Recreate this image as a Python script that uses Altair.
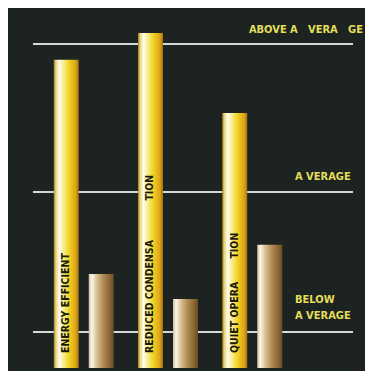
import altair as alt
import pandas as pd

# ---- data ----
groups = ["Energy Efficient", "Reduced Condensation", "Quiet Operation"]
series = ["gold", "bronze"]
gold_values = [95.1, 103.4, 78.7]
bronze_values = [29.0, 21.3, 38.0]
NB = "\u00a0"
bar_labels = [
    "ENERGY EFFICIENT",
    "REDUCED CONDENSA" + NB * 12 + "TION",
    "QUIET OPERA" + NB * 7 + "TION",
]
level_names = ["ABOVE A" + NB * 3 + "VERA" + NB * 3 + "GE", "A VERAGE", "BELOW\nA VERAGE"]
level_values = [100.0, 54.3, 11.1]

rows = []
for g, gv, bv, lab in zip(groups, gold_values, bronze_values, bar_labels):
    rows.append({"group": g, "series": "gold", "value": gv, "label": lab, "base": 0})
    rows.append({"group": g, "series": "bronze", "value": bv, "label": "", "base": 0})
df = pd.DataFrame(rows)
levels = pd.DataFrame({"name": level_names, "value": level_values})

BG = "#1d2321"
TXT = "#e4df5a"
FONT = "Liberation Sans Narrow, DejaVu Sans Condensed, Arial Narrow, sans-serif"

x_enc = alt.X("group:N", sort=groups, axis=None,
              scale=alt.Scale(paddingInner=0.2878, paddingOuter=0.7627, align=0.356))
xo_enc = alt.XOffset("series:N", sort=series,
                     scale=alt.Scale(domain=series, paddingInner=0.2857, paddingOuter=0))
y_scale = alt.Scale(domain=[0, 111.1], nice=False, zero=True)

gold_grad = alt.Gradient(
    gradient="linear", x1=0, x2=1, y1=0, y2=0,
    stops=[
        alt.GradientStop(color="#9c7a10", offset=0),
        alt.GradientStop(color="#e6d27a", offset=0.08),
        alt.GradientStop(color="#fffdf0", offset=0.22),
        alt.GradientStop(color="#f6ea80", offset=0.42),
        alt.GradientStop(color="#f2d020", offset=0.62),
        alt.GradientStop(color="#dca418", offset=0.88),
        alt.GradientStop(color="#a07010", offset=1),
    ],
)
bronze_grad = alt.Gradient(
    gradient="linear", x1=0, x2=1, y1=0, y2=0,
    stops=[
        alt.GradientStop(color="#cbbd9c", offset=0),
        alt.GradientStop(color="#fbf6ea", offset=0.12),
        alt.GradientStop(color="#d9c294", offset=0.32),
        alt.GradientStop(color="#b08a55", offset=0.58),
        alt.GradientStop(color="#8c6a35", offset=0.82),
        alt.GradientStop(color="#6a4c22", offset=1),
    ],
)

lines = alt.Chart(levels).mark_rule(color="#d4d9dc", strokeWidth=2).encode(
    y=alt.Y("value:Q", scale=y_scale, axis=None),
    x=alt.value(25), x2=alt.value(345),
)

base = alt.Chart(df).encode(
    x=x_enc, xOffset=xo_enc,
    y=alt.Y("value:Q", scale=y_scale, axis=None),
)
gold_bars = base.transform_filter(alt.datum.series == "gold").mark_bar(color=gold_grad)
bronze_bars = base.transform_filter(alt.datum.series == "bronze").mark_bar(color=bronze_grad)

bar_text = alt.Chart(df).transform_filter(alt.datum.series == "gold").mark_text(
    angle=270, align="left", baseline="middle", dx=15, fontSize=10.5,
    fontWeight="bold", font=FONT, color="#1a1a0c",
).encode(
    x=x_enc, xOffset=xo_enc,
    y=alt.Y("base:Q", scale=y_scale, axis=None),
    text="label:N",
)

def level_label(i, x, dy, align="left"):
    return alt.Chart(levels.iloc[[i]]).mark_text(
        align=align, baseline="bottom", dy=dy, fontSize=11, fontWeight="bold",
        font=FONT, color=TXT, lineBreak="\n", lineHeight=16,
    ).encode(
        y=alt.Y("value:Q", scale=y_scale, axis=None),
        x=alt.value(x),
        text="name:N",
    )

chart = alt.layer(
    lines, gold_bars, bronze_bars, bar_text,
    level_label(0, 355, -9, "right"),
    level_label(1, 287, -10),
    level_label(2, 287, -27),
).properties(
    width=357, height=360,
    autosize=alt.AutoSizeParams(type="none"),
    padding={"left": 0, "top": 0, "right": 0, "bottom": 3},
    background=BG,
).configure_view(stroke=None)

chart.save("out.html", embed_options={"renderer": "svg", "actions": False})
